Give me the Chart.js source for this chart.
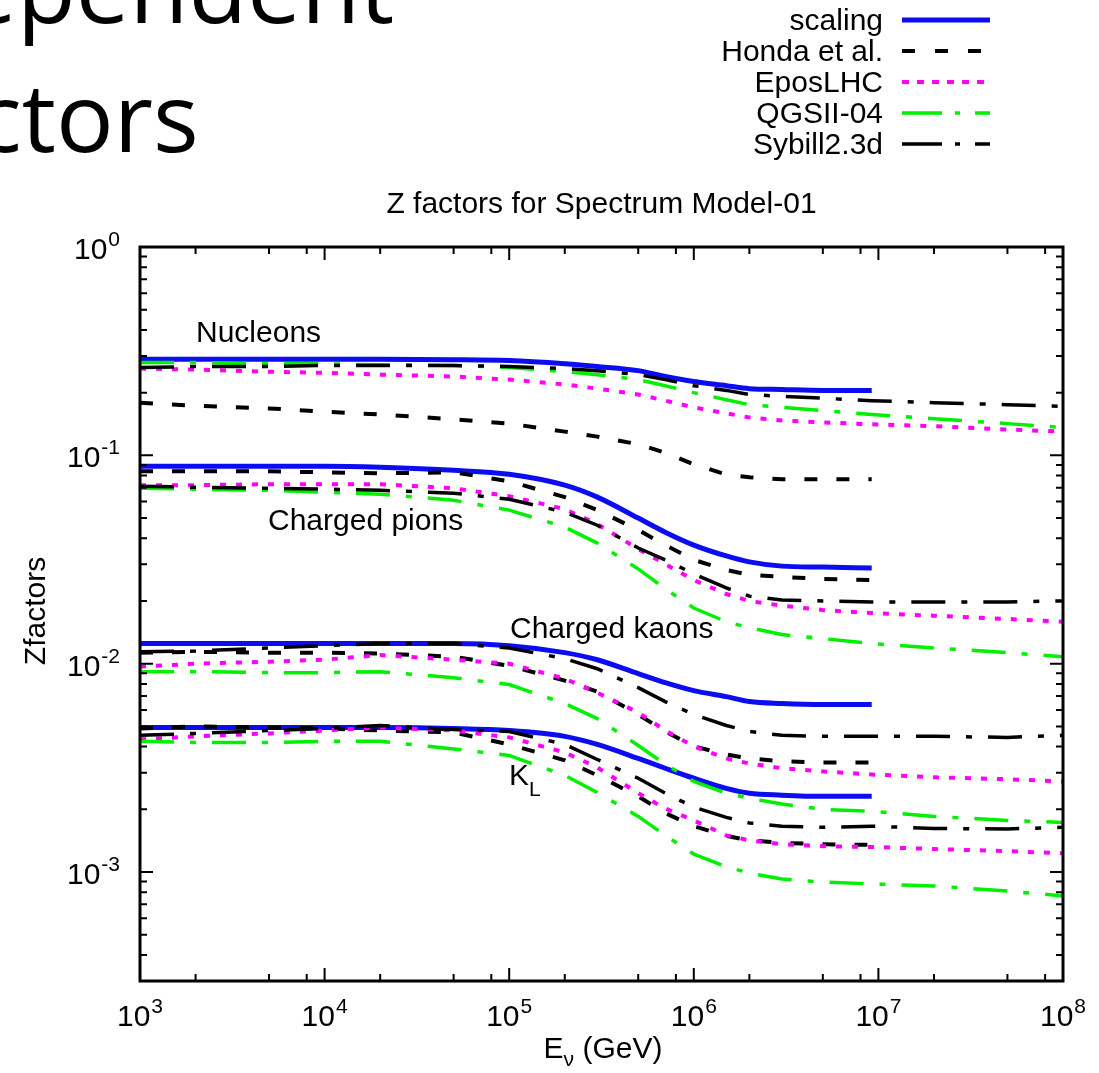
<!DOCTYPE html>
<html>
<head>
<meta charset="utf-8">
<title>Z factors for Spectrum Model-01</title>
<script src="https://cdn.jsdelivr.net/npm/chart.js@4.4.1/dist/chart.umd.min.js"></script>
<style>
  html, body { margin: 0; padding: 0; background: #fff; overflow: hidden; }
  canvas { display: block; }
</style>
</head>
<body>
<canvas id="zChart" width="1099" height="1073"></canvas>
<script>
// neutrino energy grid (GeV); scaling and Honda stop at 9.2e6
const energies = [1e3, 2e3, 5e3, 1e4, 2e4, 5e4, 1e5, 2e5, 3e5, 5e5, 7e5, 1e6, 1.5e6, 2e6, 3e6, 5e6, 9.2e6, 2e7, 5e7, 1e8];

const models = ['scaling', 'Honda et al.', 'EposLHC', 'QGSII-04', 'Sybill2.3d'];

// nucleons
const scalingNucleons = [0.289, 0.289, 0.289, 0.289, 0.289, 0.288, 0.285, 0.275, 0.267, 0.255, 0.239, 0.226, 0.216, 0.209, 0.207, 0.205, 0.205];
const hondaNucleons   = [0.179, 0.173, 0.168, 0.162, 0.157, 0.149, 0.142, 0.130, 0.123, 0.113, 0.103, 0.0905, 0.081, 0.0785, 0.0768, 0.0768, 0.0768];
const eposNucleons    = [0.261, 0.258, 0.252, 0.249, 0.244, 0.239, 0.231, 0.219, 0.209, 0.196, 0.183, 0.170, 0.159, 0.152, 0.147, 0.144, 0.141, 0.138, 0.133, 0.130];
const qgsNucleons     = [0.279, 0.279, 0.275, 0.275, 0.272, 0.270, 0.264, 0.252, 0.244, 0.231, 0.216, 0.200, 0.185, 0.175, 0.170, 0.164, 0.157, 0.150, 0.142, 0.136];
const sybillNucleons  = [0.264, 0.267, 0.267, 0.270, 0.270, 0.270, 0.267, 0.261, 0.255, 0.244, 0.231, 0.216, 0.205, 0.196, 0.192, 0.188, 0.183, 0.179, 0.175, 0.172];

// charged pions
const scalingPions = [0.0886, 0.0886, 0.0886, 0.0886, 0.0876, 0.0848, 0.0811, 0.0719, 0.0630, 0.0500, 0.0428, 0.0371, 0.0329, 0.0308, 0.0294, 0.0291, 0.0288];
const hondaPions   = [0.0838, 0.0838, 0.0838, 0.0829, 0.0820, 0.0829, 0.0751, 0.0630, 0.0546, 0.0438, 0.0371, 0.0315, 0.0282, 0.0267, 0.0261, 0.0255, 0.0252];
const eposPions    = [0.0719, 0.0719, 0.0727, 0.0727, 0.0727, 0.0695, 0.0637, 0.0552, 0.0468, 0.0355, 0.0301, 0.0252, 0.0216, 0.0200, 0.0190, 0.0181, 0.0175, 0.0170, 0.0164, 0.0159];
const qgsPions     = [0.0695, 0.0688, 0.0680, 0.0665, 0.0651, 0.0609, 0.0546, 0.0453, 0.0379, 0.0285, 0.0229, 0.0185, 0.0159, 0.0149, 0.0138, 0.0132, 0.0125, 0.0119, 0.0113, 0.0108];
const sybillPions  = [0.0711, 0.0703, 0.0695, 0.0688, 0.0680, 0.0658, 0.0616, 0.0534, 0.0462, 0.0359, 0.0315, 0.0270, 0.0231, 0.0211, 0.0202, 0.0200, 0.0198, 0.0198, 0.0198, 0.0200];

// charged kaons
const scalingKaons = [0.0125, 0.0125, 0.0125, 0.0125, 0.0125, 0.0125, 0.0122, 0.0113, 0.01045, 0.00896, 0.00811, 0.00743, 0.00695, 0.00658, 0.00644, 0.00637, 0.00637];
const hondaKaons   = [0.0113, 0.0114, 0.0113, 0.0113, 0.0112, 0.0108, 0.00977, 0.00830, 0.00734, 0.00570, 0.00473, 0.00401, 0.00367, 0.00351, 0.00340, 0.00336, 0.00336];
const eposKaons    = [0.00968, 0.0100, 0.01023, 0.01045, 0.0110, 0.01045, 0.0100, 0.00848, 0.00726, 0.00583, 0.00478, 0.00401, 0.00351, 0.00332, 0.00315, 0.00304, 0.00294, 0.00285, 0.00279, 0.00272];
const qgsKaons     = [0.00916, 0.00916, 0.00906, 0.00906, 0.00916, 0.00857, 0.00794, 0.00644, 0.00545, 0.00405, 0.00329, 0.00272, 0.00239, 0.00226, 0.00212, 0.00200, 0.00196, 0.00185, 0.00177, 0.00173];
const sybillKaons  = [0.0114, 0.0115, 0.0119, 0.0122, 0.0125, 0.0125, 0.0119, 0.01057, 0.00946, 0.00768, 0.00658, 0.00570, 0.00505, 0.00473, 0.00453, 0.00448, 0.00448, 0.00448, 0.00443, 0.00453];

// K_L
const scalingKL = [0.00494, 0.00494, 0.00494, 0.00494, 0.00494, 0.00489, 0.00478, 0.00448, 0.00410, 0.00351, 0.00315, 0.00282, 0.00252, 0.00239, 0.00234, 0.00231, 0.00231];
const hondaKL   = [0.00489, 0.00500, 0.00494, 0.00489, 0.00478, 0.00468, 0.00410, 0.00344, 0.00291, 0.00231, 0.00192, 0.00166, 0.00149, 0.00142, 0.00138, 0.00136, 0.00135];
const eposKL    = [0.00433, 0.00448, 0.00463, 0.00478, 0.00494, 0.00478, 0.00443, 0.00375, 0.00318, 0.00239, 0.00202, 0.00177, 0.00150, 0.00142, 0.00136, 0.00133, 0.00132, 0.00129, 0.00126, 0.00123];
const qgsKL     = [0.00424, 0.00419, 0.00419, 0.00424, 0.00424, 0.00390, 0.00363, 0.00291, 0.00241, 0.00185, 0.00150, 0.00122, 0.00106, 0.000989, 0.000926, 0.000895, 0.000877, 0.000858, 0.000811, 0.000768];
const sybillKL  = [0.00453, 0.00463, 0.00478, 0.00489, 0.00505, 0.00483, 0.00473, 0.00410, 0.00347, 0.00282, 0.00239, 0.00205, 0.00183, 0.00172, 0.00166, 0.00164, 0.00166, 0.00162, 0.00161, 0.00164];

const groups = [
    [scalingNucleons, hondaNucleons, eposNucleons, qgsNucleons, sybillNucleons],
    [scalingPions, hondaPions, eposPions, qgsPions, sybillPions],
    [scalingKaons, hondaKaons, eposKaons, qgsKaons, sybillKaons],
    [scalingKL, hondaKL, eposKL, qgsKL, sybillKL]
];

// one style per model, same order as models
const lineStyles = [
    { color: '#0c0cf2', width: 5, dash: [], legendDash: [] },
    { color: '#000000', width: 4, dash: [13, 19], legendDash: [13, 20] },
    { color: '#ff00ff', width: 4, dash: [6, 10], legendDash: [7, 8] },
    { color: '#00f000', width: 3.5, dash: [34, 16, 6, 16], legendDash: [40, 13, 5, 15] },
    { color: '#000000', width: 3.5, dash: [34, 16, 6, 16], legendDash: [40, 13, 5, 15] }
];

const FAM = '"Liberation Sans", Arial, Helvetica, sans-serif';

const datasets = [];
groups.forEach(group => {
    group.forEach((values, i) => {
        const st = lineStyles[i];
        datasets.push({
            label: models[i],
            data: values.map((v, k) => ({ x: energies[k], y: v })),
            borderColor: st.color,
            borderWidth: st.width,
            borderDash: st.dash,
            pointRadius: 0,
            fill: false,
            tension: 0,
            cubicInterpolationMode: i === 0 ? 'monotone' : 'default',
            order: 5 - i
        });
    });
});

// draws "10" with a raised exponent
function powLabel(ctx, exp, x, baseY, align) {
    const base = '10';
    const sup = String(exp);
    ctx.font = '30px ' + FAM;
    const wb = ctx.measureText(base).width;
    ctx.font = '21px ' + FAM;
    const ws = ctx.measureText(sup).width;
    const total = wb + 1 + ws;
    const left = align === 'right' ? x - total : x - total / 2;
    ctx.textAlign = 'left';
    ctx.font = '30px ' + FAM;
    ctx.fillText(base, left, baseY);
    ctx.font = '21px ' + FAM;
    ctx.fillText(sup, left + wb + 1, baseY - 13);
}

const decor = {
    id: 'decor',
    afterDraw(chart) {
        const { ctx, chartArea: a, scales: { x, y } } = chart;
        ctx.save();
        ctx.fillStyle = '#000';
        ctx.strokeStyle = '#000';
        ctx.textBaseline = 'alphabetic';

        // ticks on all four sides, pointing inwards
        ctx.lineWidth = 2;
        ctx.beginPath();
        for (let d = 3; d <= 8; d++) {
            const px = x.getPixelForValue(10 ** d);
            ctx.moveTo(px, a.bottom); ctx.lineTo(px, a.bottom - 13);
            ctx.moveTo(px, a.top); ctx.lineTo(px, a.top + 13);
            if (d < 8) {
                [2, 5, 8].forEach(m => {
                    const mx = x.getPixelForValue(m * 10 ** d);
                    ctx.moveTo(mx, a.bottom); ctx.lineTo(mx, a.bottom - 7);
                    ctx.moveTo(mx, a.top); ctx.lineTo(mx, a.top + 7);
                });
            }
        }
        for (let d = -4; d <= 0; d++) {
            for (let m = 1; m <= 9; m++) {
                const v = m * 10 ** d;
                if (v < y.min * 0.999 || v > y.max * 1.001) continue;
                const py = y.getPixelForValue(v);
                const len = m === 1 ? 13 : 7;
                ctx.moveTo(a.left, py); ctx.lineTo(a.left + len, py);
                ctx.moveTo(a.right, py); ctx.lineTo(a.right - len, py);
            }
        }
        ctx.stroke();

        ctx.lineWidth = 3;
        ctx.strokeRect(a.left, a.top, a.right - a.left, a.bottom - a.top);

        // tick labels
        for (let d = 3; d <= 8; d++) {
            powLabel(ctx, d, x.getPixelForValue(10 ** d), a.bottom + 45, 'center');
        }
        for (let d = -3; d <= 0; d++) {
            powLabel(ctx, d, 120, y.getPixelForValue(10 ** d) + 12, 'right');
        }

        // plot title
        ctx.font = '30px ' + FAM;
        ctx.textAlign = 'center';
        ctx.fillText('Z factors for Spectrum Model-01', (a.left + a.right) / 2, 213);

        // y axis title
        ctx.save();
        ctx.translate(45, 611);
        ctx.rotate(-Math.PI / 2);
        ctx.fillText('Zfactors', 0, 0);
        ctx.restore();

        // x axis title: E_nu (GeV)
        ctx.font = '30px ' + FAM;
        const wE = ctx.measureText('E').width;
        const wRest = ctx.measureText(' (GeV)').width;
        ctx.font = '21px ' + FAM;
        const wNu = ctx.measureText('\u03bd').width;
        let tx = 603 - (wE + wNu + wRest) / 2;
        ctx.textAlign = 'left';
        ctx.font = '30px ' + FAM;
        ctx.fillText('E', tx, 1058);
        ctx.font = '21px ' + FAM;
        ctx.fillText('\u03bd', tx + wE, 1066);
        ctx.font = '30px ' + FAM;
        ctx.fillText(' (GeV)', tx + wE + wNu, 1058);

        // curve group labels
        ctx.fillText('Nucleons', 196, 342);
        ctx.fillText('Charged pions', 268, 530);
        ctx.fillText('Charged kaons', 510, 638);
        ctx.fillText('K', 509, 785);
        const wK = ctx.measureText('K').width;
        ctx.font = '21px ' + FAM;
        ctx.fillText('L', 509 + wK, 796);

        // legend, top right
        const rows = [30, 61, 92, 123, 154];
        models.forEach((name, i) => {
            const st = lineStyles[i];
            ctx.font = '30px ' + FAM;
            ctx.textAlign = 'right';
            ctx.fillStyle = '#000';
            ctx.fillText(name, 883, rows[i]);
            ctx.beginPath();
            ctx.strokeStyle = st.color;
            ctx.lineWidth = st.width;
            ctx.setLineDash(st.legendDash);
            ctx.moveTo(902, rows[i] - 10);
            ctx.lineTo(990, rows[i] - 10);
            ctx.stroke();
            ctx.setLineDash([]);
        });

        // slide heading, cut by the page edge
        ctx.fillStyle = '#000';
        ctx.textAlign = 'left';
        ctx.font = '96px "Open Sans", "Noto Sans", sans-serif';
        const l1 = 'ependent';
        const m1 = ctx.measureText(l1);
        ctx.fillText(l1, 393 - m1.actualBoundingBoxRight, 23);
        const l2 = 'ctors';
        const m2 = ctx.measureText(l2);
        ctx.fillText(l2, 195 - m2.actualBoundingBoxRight, 152);

        ctx.restore();
    }
};

new Chart(document.getElementById('zChart'), {
    type: 'line',
    data: { datasets },
    options: {
        responsive: false,
        animation: false,
        devicePixelRatio: 1,
        layout: { padding: { left: 140, top: 247, right: 36, bottom: 92 } },
        plugins: {
            legend: { display: false },
            tooltip: { enabled: false },
            title: { display: false }
        },
        scales: {
            x: { type: 'logarithmic', min: 1e3, max: 1e8, display: false },
            y: { type: 'logarithmic', min: 3e-4, max: 1, display: false }
        }
    },
    plugins: [decor]
});
</script>
</body>
</html>
